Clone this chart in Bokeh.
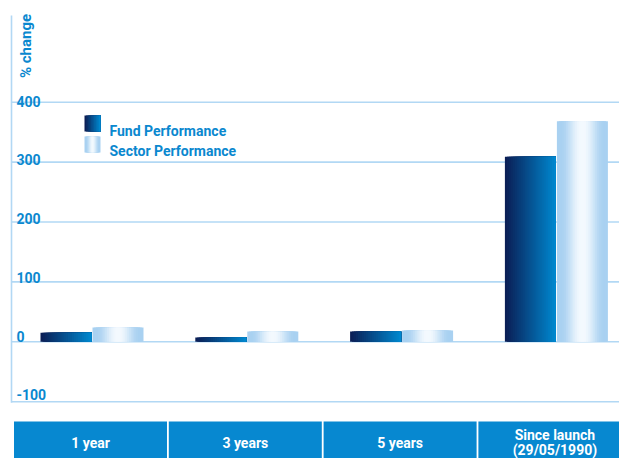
import numpy as np
from bokeh.plotting import figure
from bokeh.models import Range1d
from bokeh.core.properties import value
from bokeh.embed import file_html
from bokeh.resources import INLINE

# ---------------- data ----------------
categories = ["1 year", "3 years", "5 years", "Since launch\n(29/05/1990)"]
fund = [15, 7, 17, 309]
sector = [24, 17, 19, 368]
y_ticks = [400, 300, 200, 100, 0, -100]
tick_labels = ["400", "300", "200", "100", "0", "-100"]
series_names = ["Fund Performance", "Sector Performance"]
axis_title = "% change"

# ---------------- layout / style ----------------
W, H = 619, 458
PX0, PY0 = 0, 0
GROUP0, GROUP_STEP = 91.5, 154.8
ZERO_Y, PX_PER_UNIT = 341.3, 0.599
FONT = value("Roboto")
BLUE_TEXT = "#0a88cf"
BOX_BLUE = "#0788d0"
GRID = "#b2d8f4"


def dx(px):
    return (px - GROUP0) / GROUP_STEP


def dy(py):
    return (ZERO_Y - py) / PX_PER_UNIT


def hex2rgb(h):
    h = h.lstrip("#")
    return np.array([int(h[i:i + 2], 16) for i in (0, 2, 4)], dtype=float)


def rgb2hex(c):
    c = np.clip(np.round(c), 0, 255).astype(int)
    return "#%02x%02x%02x" % tuple(c)


FUND_L, FUND_R = hex2rgb("#0b1f56"), hex2rgb("#0087ce")
SEC_EDGE, SEC_MID = hex2rgb("#a9d1f1"), hex2rgb("#f3f9fe")


def fund_strips(left, right, bottom, top, n=26):
    L, R, B, T, C = [], [], [], [], []
    w = right - left
    for k in range(n):
        t = k / (n - 1)
        L.append(left + w * k / n)
        R.append(right)
        B.append(bottom)
        T.append(top)
        C.append(rgb2hex(FUND_L + (FUND_R - FUND_L) * t))
    return L, R, B, T, C


def sector_strips(left, right, bottom, top, n=14):
    L, R, B, T, C = [], [], [], [], []
    w = right - left
    for k in range(n):
        d = 1 - k / n  # 1 at edge, ->0 at centre
        s = np.clip((1 - d - 0.12) / 0.8, 0, 1)
        s = s * s * (3 - 2 * s)
        inset = w / 2 * k / n
        L.append(left + inset)
        R.append(right - inset)
        B.append(bottom)
        T.append(top)
        C.append(rgb2hex(SEC_EDGE + (SEC_MID - SEC_EDGE) * s))
    return L, R, B, T, C


p = figure(width=W, height=H,
           x_range=Range1d(dx(PX0), dx(PX0 + W)),
           y_range=Range1d(dy(PY0 + H), dy(PY0)),
           x_axis_type=None, y_axis_type=None,
           output_backend="svg", toolbar_location=None,
           min_border=0, min_border_left=0, min_border_right=0,
           min_border_top=0, min_border_bottom=0)
p.outline_line_color = None
p.grid.visible = False
p.background_fill_color = "white"
p.border_fill_color = "white"

# grid lines
gx0 = dx(11)
gx1 = dx(PX0 + W + 10)
p.segment(x0=[gx0] * len(y_ticks), x1=[gx1] * len(y_ticks), y0=y_ticks, y1=y_ticks,
          line_color=GRID, line_width=1.6)
p.segment(x0=[gx0], x1=[gx0], y0=[min(y_ticks) - 1.0 / PX_PER_UNIT], y1=[dy(15)],
          line_color=GRID, line_width=1.6)

# bars
bar_w = 51 / GROUP_STEP
gap = 0.5 / GROUP_STEP
allL, allR, allB, allT, allC = [], [], [], [], []
for i, (f, s) in enumerate(zip(fund, sector)):
    l, r, b, t, c = fund_strips(i - bar_w - gap, i - gap, 0, f)
    allL += l; allR += r; allB += b; allT += t; allC += c
    l, r, b, t, c = sector_strips(i + gap, i + bar_w + gap, 0, s)
    allL += l; allR += r; allB += b; allT += t; allC += c
p.quad(left=allL, right=allR, bottom=allB, top=allT, fill_color=allC, line_color=None)

# tick labels
lab_y = [v + (1 + (400 - v) / 500 * 6) / PX_PER_UNIT for v in y_ticks]
p.text(x=[dx(16)] * len(y_ticks), y=lab_y, text=tick_labels,
       text_font=FONT, text_font_style="bold", text_font_size="14px",
       text_color=BLUE_TEXT, text_align="left", text_baseline="alphabetic")

# axis title (rotated)
p.text(x=[dx(25)], y=[dy(45.5)], text=[axis_title], angle=np.pi / 2,
       text_font=FONT, text_font_style="bold", text_font_size="15px",
       text_color=BLUE_TEXT, text_align="center", text_baseline="alphabetic")

# legend
sq_l, sq_r = dx(84), dx(100)
lL, lR, lB, lT, lC = fund_strips(sq_l, sq_r, dy(131), dy(115), n=10)
l2 = sector_strips(sq_l, sq_r, dy(152), dy(136), n=8)
lL += l2[0]; lR += l2[1]; lB += l2[2]; lT += l2[3]; lC += l2[4]
p.quad(left=lL, right=lR, bottom=lB, top=lT, fill_color=lC, line_color=None)
p.text(x=[dx(109)] * 2, y=[dy(130), dy(150.5)], text=series_names,
       text_font=FONT, text_font_style="bold", text_font_size="14px",
       text_color=BLUE_TEXT, text_align="left", text_baseline="alphabetic")

# category boxes
box_w = 153 / GROUP_STEP
box_shift = -1.5 / GROUP_STEP
idx = list(range(len(categories)))
p.quad(left=[i - box_w / 2 + box_shift for i in idx],
       right=[i + box_w / 2 + box_shift for i in idx],
       bottom=[dy(PY0 + H + 10)] * len(idx), top=[dy(421)] * len(idx),
       fill_color=BOX_BLUE, line_color=None)
tx, ty, tt = [], [], []
for i, cat in enumerate(categories):
    lines = cat.split("\n")
    n = len(lines)
    for j, ln in enumerate(lines):
        centre = 442 + (j - (n - 1) / 2) * 14.5
        tx.append(i + box_shift)
        ty.append(dy(centre))
        tt.append(ln)
p.text(x=tx, y=ty, text=tt, text_font=FONT, text_font_style="bold",
       text_font_size="14px", text_color="white", text_align="center",
       text_baseline="middle")

open("out.html", "w").write(file_html(p, INLINE))
